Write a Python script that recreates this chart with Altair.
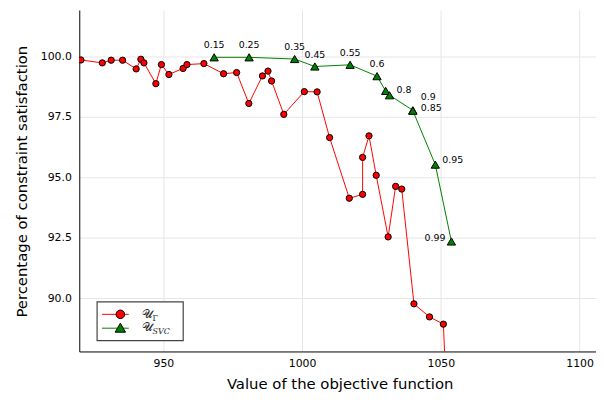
import altair as alt
import pandas as pd

# U_Gamma series
red_x = [920.3, 928.0, 931.2, 935.3, 940.2, 941.9, 943.0, 947.3, 949.3, 952.0,
         957.1, 958.5, 964.6, 971.7, 976.4, 980.8, 985.7, 987.7, 989.0, 993.4,
         1000.8, 1005.4, 1009.9, 1017.0, 1021.8, 1021.8, 1024.1, 1026.7, 1031.0,
         1033.7, 1035.9, 1040.3, 1045.9, 1050.9, 1052.2]
red_y = [99.86, 99.74, 99.85, 99.85, 99.49, 99.89, 99.74, 98.88, 99.67, 99.26,
         99.51, 99.67, 99.71, 99.29, 99.34, 98.06, 99.20, 99.40, 98.99, 97.61,
         98.55, 98.54, 96.65, 94.14, 94.30, 95.83, 96.72, 95.09, 92.54,
         94.63, 94.52, 89.77, 89.23, 88.93, 85.5]

# U_SVC series
green_x = [968.3, 980.9, 997.3, 1004.6, 1017.3, 1027.0, 1030.1, 1031.5, 1039.9, 1039.9, 1048.0, 1053.8]
green_y = [99.97, 99.97, 99.90, 99.59, 99.66, 99.19, 98.58, 98.40, 97.78, 97.76, 95.53, 92.35]
green_labels = ["0.15", "0.25", "0.35", "0.45", "0.55", "0.6", "", "0.8", "0.85", "0.9", "0.95", "0.99"]
label_pos = ["above", "above", "above", "above", "above", "above", "none", "right", "right85", "right2", "right", "left"]

x_ticks = [950, 1000, 1050, 1100]
y_ticks = [90.0, 92.5, 95.0, 97.5, 100.0]

RED = "#ff0000"
GREEN = "#008000"
FONT = "DejaVu Sans"

red_df = pd.DataFrame({"x": red_x, "y": red_y, "o": list(range(len(red_x)))})
green_df = pd.DataFrame({"x": green_x, "y": green_y, "label": green_labels,
                         "pos": label_pos, "o": list(range(len(green_x)))})

xs = alt.Scale(domain=[919.7, 1105.9], nice=False, zero=False)
ys = alt.Scale(domain=[87.8, 101.93], nice=False, zero=False)

x_axis = alt.Axis(values=x_ticks, format="d", title="Value of the objective function",
                  ticks=False, labelPadding=6, titleX=263, titleY=32,
                  titleBaseline="middle", titleAlign="center")
y_axis = alt.Axis(values=y_ticks, format=".1f", title="Percentage of constraint satisfaction",
                  ticks=False, labelPadding=8, titleX=-58, titleY=173, titleAngle=-90,
                  titleBaseline="middle", titleAlign="center")

X = alt.X("x:Q", scale=xs, axis=x_axis)
Y = alt.Y("y:Q", scale=ys, axis=y_axis)
Xn = alt.X("x:Q", scale=xs)
Yn = alt.Y("y:Q", scale=ys)

red_line = alt.Chart(red_df).mark_line(color=RED, strokeWidth=1, clip=True).encode(
    x=X, y=Y, order="o:Q")
red_pts = alt.Chart(red_df).mark_point(shape="circle", filled=True, fill=RED, stroke="black",
                                       strokeWidth=1, size=40, opacity=1, clip=True).encode(
    x=Xn, y=Yn)
green_line = alt.Chart(green_df).mark_line(color=GREEN, strokeWidth=1, clip=True).encode(
    x=Xn, y=Yn, order="o:Q")
green_pts = alt.Chart(green_df).mark_point(shape="triangle-up", filled=True, fill=GREEN,
                                           stroke="black", strokeWidth=1, size=70, opacity=1,
                                           clip=True).encode(x=Xn, y=Yn)

def lbl(pos, **kw):
    return alt.Chart(green_df).transform_filter(alt.datum.pos == pos).mark_text(
        font=FONT, fontSize=9.5, color="black", **kw).encode(x=Xn, y=Yn, text="label:N")

labels = (lbl("above", dy=-12, align="center", baseline="middle")
          + lbl("right", dx=7, dy=-5, align="left", baseline="middle")
          + lbl("right85", dx=8, dy=-2.5, align="left", baseline="middle")
          + lbl("right2", dx=8, dy=-13.5, align="left", baseline="middle")
          + lbl("left", dx=-6, dy=-3, align="right", baseline="middle"))

# custom legend (pixel positions inside plot area)
leg_df = pd.DataFrame({"k": [0]})
leg_box = alt.Chart(leg_df).mark_rect(fill="white", stroke="#444444", strokeWidth=1.2).encode(
    x=alt.value(18), x2=alt.value(105), y=alt.value(295), y2=alt.value(334))
leg_r_line = alt.Chart(leg_df).mark_rule(color=RED, strokeWidth=1).encode(
    x=alt.value(23), x2=alt.value(50), y=alt.value(307.5))
leg_g_line = alt.Chart(leg_df).mark_rule(color=GREEN, strokeWidth=1).encode(
    x=alt.value(23), x2=alt.value(50), y=alt.value(321.5))
leg_r_pt = alt.Chart(leg_df).mark_point(shape="circle", filled=True, fill=RED, stroke="black",
                                        strokeWidth=1, size=75, opacity=1).encode(
    x=alt.value(41.5), y=alt.value(307.5))
leg_g_pt = alt.Chart(leg_df).mark_point(shape="triangle-up", filled=True, fill=GREEN,
                                        stroke="black", strokeWidth=1, size=110, opacity=1).encode(
    x=alt.value(41.5), y=alt.value(321))
leg_t1 = alt.Chart(leg_df).mark_text(text="𝒰", font="DejaVu Serif", fontSize=12, align="left",
                                     baseline="middle", color="#222222").encode(
    x=alt.value(63), y=alt.value(307))
leg_s1 = alt.Chart(leg_df).mark_text(text="Γ", font="DejaVu Serif", fontSize=8, align="left",
                                     baseline="middle", color="#222222").encode(
    x=alt.value(74), y=alt.value(312))
leg_t2 = alt.Chart(leg_df).mark_text(text="𝒰", font="DejaVu Serif", fontSize=12, align="left",
                                     baseline="middle", color="#222222").encode(
    x=alt.value(63), y=alt.value(320.5))
leg_s2 = alt.Chart(leg_df).mark_text(text="SVC", font="DejaVu Serif", fontSize=8, fontStyle="italic",
                                     align="left", baseline="middle", color="#222222").encode(
    x=alt.value(74), y=alt.value(325))

chart = alt.layer(
    red_line, red_pts, green_line, green_pts, labels,
    leg_box, leg_r_line, leg_g_line, leg_r_pt, leg_g_pt, leg_t1, leg_s1, leg_t2, leg_s2
).properties(
    width=522, height=345,
    autosize=alt.AutoSizeParams(type="none"),
    padding={"left": 72, "top": 0, "right": 0, "bottom": 40},
    background="white",
).configure_view(strokeWidth=0).configure_axis(
    labelFont=FONT, titleFont=FONT, labelFontSize=11, titleFontSize=15,
    labelColor="black", titleColor="black", titleFontWeight="normal",
    gridColor="#e6e6e6", gridWidth=1, domainColor="black", domainWidth=1,
)

chart.save("out.html", embed_options={"renderer": "svg", "actions": False})
